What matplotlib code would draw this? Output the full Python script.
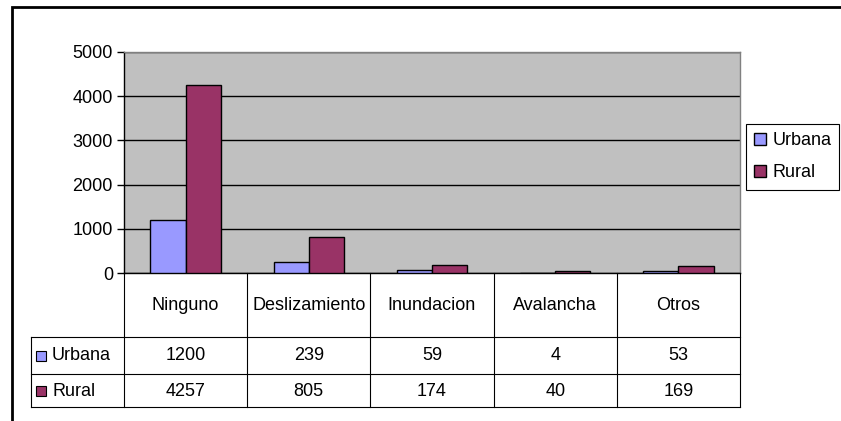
import numpy as np
import matplotlib
matplotlib.use("Agg")
import matplotlib.pyplot as plt
import matplotlib.transforms as mtransforms
from matplotlib.patches import Rectangle
from matplotlib.lines import Line2D

# datos
categorias = ["Ninguno", "Deslizamiento", "Inundacion", "Avalancha", "Otros"]
series = ["Urbana", "Rural"]
urbana = [1200, 239, 59, 4, 53]
rural = [4257, 805, 174, 40, 169]
colores = ["#9999FF", "#993366"]

plt.rcParams["font.family"] = ["Liberation Sans", "DejaVu Sans"]

W, H = 841, 421
fig = plt.figure(figsize=(W / 100, H / 100), dpi=100)


def fx(px):
    return px / W


def fy(py):
    return 1 - py / H


# grafico
ax = fig.add_axes([fx(124), fy(273), fx(740) - fx(124), fy(52) - fy(273)])
ax.set_facecolor("#C0C0C0")
x = np.arange(len(categorias))
w = 0.285
ax.bar(x - w / 2, urbana, w, color=colores[0], edgecolor="black", linewidth=1,
       label=series[0], zorder=3)
ax.bar(x + w / 2, rural, w, color=colores[1], edgecolor="black", linewidth=1,
       label=series[1], zorder=3)
ax.set_xlim(-0.5, len(categorias) - 0.5)
ax.set_ylim(0, 5000)
ax.set_yticks(range(0, 5001, 1000))
ax.set_xticks([])
ax.yaxis.grid(True, color="black", linewidth=1)
ax.set_axisbelow(True)
ax.tick_params(axis="y", direction="out", length=5, width=1, labelsize=13, pad=3)
ax.spines["left"].set_color("black")
ax.spines["bottom"].set_color("black")
ax.spines["top"].set_color("#808080")
ax.spines["right"].set_color("#808080")
for s in ax.spines.values():
    s.set_linewidth(1)

# leyenda
ax.legend(loc="upper left", bbox_to_anchor=(fx(746), fy(124)),
          bbox_transform=fig.transFigure, fontsize=13, frameon=True,
          fancybox=False, edgecolor="black", framealpha=1,
          handlelength=0.65, handleheight=0.65, handletextpad=0.35,
          borderpad=0.45, labelspacing=0.85, borderaxespad=0)
ax.get_legend().get_frame().set_linewidth(0.8)

# tabla de datos
trans = mtransforms.blended_transform_factory(ax.transData, fig.transFigure)
for xi in np.arange(-0.5, len(categorias), 1.0):
    fig.add_artist(Line2D([xi, xi], [fy(273), fy(407)], transform=trans,
                          color="black", linewidth=0.8))
for py in [337, 374, 407]:
    fig.add_artist(Line2D([fx(31), fx(740)], [fy(py), fy(py)],
                          transform=fig.transFigure, color="black", linewidth=0.8))
fig.add_artist(Line2D([fx(31), fx(31)], [fy(337), fy(407)],
                      transform=fig.transFigure, color="black", linewidth=0.8))

for i, cat in enumerate(categorias):
    fig.text(i, fy(305), cat, transform=trans, ha="center", va="center", fontsize=13)
    fig.text(i, fy(356), str(urbana[i]), transform=trans, ha="center", va="center", fontsize=13)
    fig.text(i, fy(391), str(rural[i]), transform=trans, ha="center", va="center", fontsize=13)

for nombre, color, py in zip(series, colores, [356, 391]):
    fig.add_artist(Rectangle((fx(36), fy(py + 5)), fx(10), 10 / H,
                             transform=fig.transFigure, facecolor=color,
                             edgecolor="black", linewidth=0.8))
    fig.text(fx(52), fy(py), nombre, ha="left", va="center", fontsize=13)

# borde exterior
fig.add_artist(Rectangle((fx(12), -0.1), 1.2, fy(7) + 0.1,
                         transform=fig.transFigure, fill=False,
                         edgecolor="black", linewidth=2, clip_on=False))

fig.savefig("out.png", dpi=100)
